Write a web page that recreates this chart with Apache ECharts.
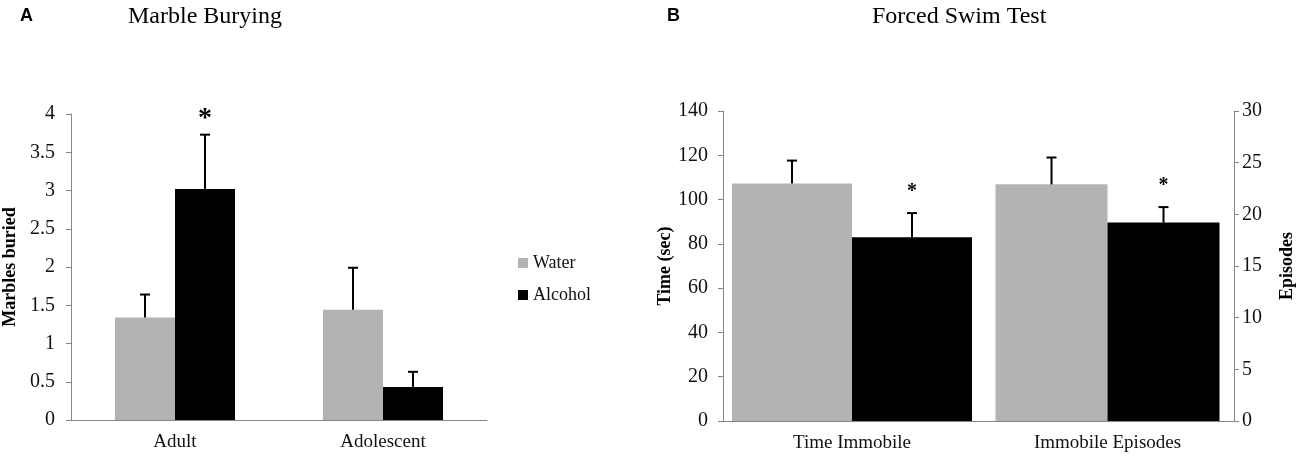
<!DOCTYPE html>
<html>
<head>
<meta charset="utf-8">
<script src="https://cdn.jsdelivr.net/npm/echarts@6/dist/echarts.min.js"></script>
<style>
	html, body { margin: 0; padding: 0; background: #fff; }
	#chart { width: 1300px; height: 458px; }
</style>
</head>
<body>
<div id="chart"></div>
<script>
// panel A - marble burying
var groupsA = ['Adult', 'Adolescent'];
var waterA = [1.34, 1.44];
var waterErrA = [0.30, 0.55];
var alcoholA = [3.02, 0.43];
var alcoholErrA = [0.71, 0.20];
var alcoholSigA = [1, 0];

// panel B - forced swim test (time on left axis, episodes on right axis)
var measuresB = ['Time Immobile', 'Immobile Episodes'];
var waterB = [107.3, 22.9];
var waterErrB = [10.3, 2.6];
var alcoholB = [83.0, 19.2];
var alcoholErrB = [10.9, 1.5];
var alcoholSigB = [1, 1];

var ticksA = { min: 0, max: 4, interval: 0.5 };
var ticksTime = { min: 0, max: 140, interval: 20 };
var ticksEpisodes = { min: 0, max: 30, interval: 5 };

var serif = 'Liberation Serif';
var sans = 'Liberation Sans';
var axisGrey = '#868686';
var waterColor = '#b3b3b3';
var alcoholColor = '#000000';

var chart = echarts.init(document.getElementById('chart'));

function errRows(values, errs, sigs, from, to) {
	var rows = [];
	for (var i = from; i < to; i++) {
		rows.push([i - from, values[i], errs[i], sigs ? sigs[i] : 0]);
	}
	return rows;
}

// error bar (upper only) drawn from the bar top, plus the asterisk when significant
function errorBar(offset, starSize, starGap) {
	return function(params, api) {
		var x = api.value(0), v = api.value(1), e = api.value(2), sig = api.value(3);
		var base = api.coord([x, v]);
		var top = api.coord([x, v + e]);
		var cx = base[0] + offset;
		var kids = [{
			type: 'line',
			shape: { x1: cx, y1: base[1], x2: cx, y2: top[1] },
			style: { stroke: '#000', lineWidth: 2 }
		}, {
			type: 'line',
			shape: { x1: cx - 5, y1: top[1], x2: cx + 5, y2: top[1] },
			style: { stroke: '#000', lineWidth: 2 }
		}];
		if (sig) {
			kids.push({
				type: 'text',
				style: {
					text: '*', x: cx, y: top[1] - starGap,
					align: 'center', verticalAlign: 'bottom',
					fontFamily: serif, fontSize: starSize, fontWeight: 'bold', fill: '#000'
				}
			});
		}
		return { type: 'group', children: kids };
	};
}

function valueAxis(grid, ticks, pos, name, gap, labelMargin) {
	return {
		type: 'value', gridIndex: grid, position: pos,
		min: ticks.min, max: ticks.max, interval: ticks.interval,
		name: name, nameLocation: 'middle', nameGap: gap, nameRotate: 90,
		nameTextStyle: { fontFamily: serif, fontSize: 18, fontWeight: 'bold', color: '#000' },
		axisLine: { show: true, lineStyle: { color: axisGrey } },
		axisTick: { show: true, length: 5, lineStyle: { color: axisGrey } },
		axisLabel: { margin: labelMargin, fontFamily: serif, fontSize: 20, color: '#111' },
		splitLine: { show: false }
	};
}

function catAxis(grid, cats) {
	return {
		type: 'category', gridIndex: grid, data: cats,
		axisLine: { lineStyle: { color: axisGrey } },
		axisTick: { length: 5, lineStyle: { color: axisGrey } },
		axisLabel: { margin: 13, fontFamily: serif, fontSize: 19, color: '#111' }
	};
}

var barA = 60, barTime = 120, barEp = 112;

var option = {
	animation: false,
	title: [
		{ text: 'A', left: 15, top: 2, textStyle: { fontFamily: sans, fontSize: 18, fontWeight: 'bold', color: '#000' } },
		{ text: 'Marble Burying', left: 123, top: 0, textStyle: { fontFamily: serif, fontSize: 24, fontWeight: 'normal', color: '#000' } },
		{ text: 'B', left: 662, top: 2, textStyle: { fontFamily: sans, fontSize: 18, fontWeight: 'bold', color: '#000' } },
		{ text: 'Forced Swim Test', left: 867, top: 0, textStyle: { fontFamily: serif, fontSize: 24, fontWeight: 'normal', color: '#000' } }
	],
	legend: {
		data: ['Water', 'Alcohol'],
		orient: 'vertical', left: 513, top: 249,
		itemWidth: 10, itemHeight: 10, itemGap: 14,
		icon: 'rect', selectedMode: false,
		textStyle: { fontFamily: serif, fontSize: 18, color: '#111' }
	},
	grid: [
		{ left: 68, top: 114, width: 419, height: 306 },
		{ left: 723, top: 111, width: 258, height: 310 },
		{ left: 981, top: 111, width: 253, height: 310 }
	],
	xAxis: [
		catAxis(0, groupsA),
		catAxis(1, measuresB.slice(0, 1)),
		catAxis(2, measuresB.slice(1, 2))
	],
	yAxis: [
		valueAxis(0, ticksA, 'left', 'Marbles buried', 52, 16),
		valueAxis(1, ticksTime, 'left', 'Time (sec)', 46, 15),
		valueAxis(2, ticksEpisodes, 'right', 'Episodes', 44, 8)
	],
	series: [
		// panel A
		{ name: 'Water', type: 'bar', xAxisIndex: 0, yAxisIndex: 0, data: waterA, barWidth: barA, barGap: '0%', itemStyle: { color: waterColor } },
		{ name: 'Alcohol', type: 'bar', xAxisIndex: 0, yAxisIndex: 0, data: alcoholA, barWidth: barA, barGap: '0%', itemStyle: { color: alcoholColor } },
		{ name: 'Water SEM', type: 'custom', xAxisIndex: 0, yAxisIndex: 0, encode: { x: 0, y: 1 }, z: 5,
			data: errRows(waterA, waterErrA, null, 0, 2), renderItem: errorBar(-barA / 2, 28, 2) },
		{ name: 'Alcohol SEM', type: 'custom', xAxisIndex: 0, yAxisIndex: 0, encode: { x: 0, y: 1 }, z: 5,
			data: errRows(alcoholA, alcoholErrA, alcoholSigA, 0, 2), renderItem: errorBar(barA / 2, 28, 2) },
		// panel B - time immobile
		{ name: 'Water', type: 'bar', xAxisIndex: 1, yAxisIndex: 1, data: waterB.slice(0, 1), barWidth: barTime, barGap: '0%', itemStyle: { color: waterColor } },
		{ name: 'Alcohol', type: 'bar', xAxisIndex: 1, yAxisIndex: 1, data: alcoholB.slice(0, 1), barWidth: barTime, barGap: '0%', itemStyle: { color: alcoholColor } },
		{ name: 'Water SEM', type: 'custom', xAxisIndex: 1, yAxisIndex: 1, encode: { x: 0, y: 1 }, z: 5,
			data: errRows(waterB, waterErrB, null, 0, 1), renderItem: errorBar(-barTime / 2, 20, 11) },
		{ name: 'Alcohol SEM', type: 'custom', xAxisIndex: 1, yAxisIndex: 1, encode: { x: 0, y: 1 }, z: 5,
			data: errRows(alcoholB, alcoholErrB, alcoholSigB, 0, 1), renderItem: errorBar(barTime / 2, 20, 11) },
		// panel B - immobile episodes
		{ name: 'Water', type: 'bar', xAxisIndex: 2, yAxisIndex: 2, data: waterB.slice(1, 2), barWidth: barEp, barGap: '0%', itemStyle: { color: waterColor } },
		{ name: 'Alcohol', type: 'bar', xAxisIndex: 2, yAxisIndex: 2, data: alcoholB.slice(1, 2), barWidth: barEp, barGap: '0%', itemStyle: { color: alcoholColor } },
		{ name: 'Water SEM', type: 'custom', xAxisIndex: 2, yAxisIndex: 2, encode: { x: 0, y: 1 }, z: 5,
			data: errRows(waterB, waterErrB, null, 1, 2), renderItem: errorBar(-barEp / 2, 20, 11) },
		{ name: 'Alcohol SEM', type: 'custom', xAxisIndex: 2, yAxisIndex: 2, encode: { x: 0, y: 1 }, z: 5,
			data: errRows(alcoholB, alcoholErrB, alcoholSigB, 1, 2), renderItem: errorBar(barEp / 2, 20, 11) }
	]
};

chart.setOption(option);
</script>
</body>
</html>
